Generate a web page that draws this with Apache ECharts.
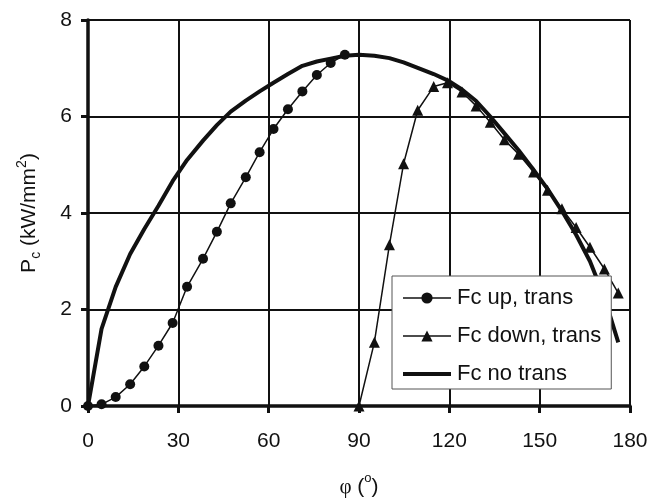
<!DOCTYPE html>
<html>
<head>
<meta charset="utf-8">
<script src="https://cdn.jsdelivr.net/npm/echarts@6/dist/echarts.min.js"></script>
<style>
  html, body { margin: 0; padding: 0; background: #fff; }
  #chart { width: 660px; height: 503px; }
</style>
</head>
<body>
<div id="chart"></div>
<script>
// Cutting power Pc (kW/mm²) versus rotation angle φ (degrees)
const seriesNames = ['Fc up, trans', 'Fc down, trans', 'Fc no trans'];

// Fc up, trans (circles)
const upAngle = [0, 4.5, 9.2, 14, 18.7, 23.4, 28.1, 32.9, 38.2, 42.8, 47.4, 52.4, 57, 61.6, 66.4, 71.2, 76, 80.6, 85.3];
const upPower = [0, 0.035, 0.185, 0.45, 0.82, 1.25, 1.72, 2.47, 3.05, 3.61, 4.2, 4.74, 5.26, 5.74, 6.15, 6.52, 6.86, 7.11, 7.28];

// Fc down, trans (triangles)
const downAngle = [90, 95.1, 100.1, 104.8, 109.5, 114.8, 119.4, 124.2, 128.9, 133.6, 138.3, 143, 148, 152.6, 157.4, 162.1, 166.7, 171.5, 176.1];
const downPower = [0, 1.32, 3.34, 5.02, 6.13, 6.62, 6.7, 6.51, 6.22, 5.88, 5.52, 5.22, 4.85, 4.47, 4.09, 3.7, 3.29, 2.84, 2.34];

// Fc no trans (thick line)
const noAngle = [0, 4.5, 9.2, 14, 18.7, 23.4, 28.1, 32.9, 38.2, 42.8, 47.4, 52.4, 57, 61.6, 66.4, 71.2, 76, 80.6, 85.3,
                 90, 95.1, 100.1, 104.8, 109.5, 114.8, 119.4, 124.2, 128.9, 133.6, 138.3, 143, 148, 152.6, 157.4, 162.1, 166.7, 171.5, 176.1];
const noPower = [0, 1.6, 2.47, 3.15, 3.67, 4.15, 4.66, 5.1, 5.5, 5.82, 6.1, 6.33, 6.52, 6.7, 6.88, 7.05, 7.14, 7.2, 7.26,
                 7.28, 7.26, 7.21, 7.12, 7.01, 6.88, 6.75, 6.56, 6.32, 6.0, 5.65, 5.3, 4.89, 4.5, 4.04, 3.55, 3.0, 2.25, 1.32];

// Axis ticks
const xMin = 0, xMax = 180, xStep = 30;
const yMin = 0, yMax = 8, yStep = 2;

const zip = (xs, ys) => xs.map((x, i) => [x, ys[i]]);

const ink = '#111';
const sans = '"Liberation Sans", Arial, sans-serif';

const chart = echarts.init(document.getElementById('chart'), null, { renderer: 'canvas' });

chart.setOption({
  backgroundColor: '#fff',
  animation: false,
  grid: { left: 88, right: 30, top: 20, bottom: 94 },
  xAxis: {
    type: 'value',
    min: xMin, max: xMax, interval: xStep,
    name: '{f|φ}{a| (}{p|o}{a|)}',
    nameLocation: 'middle',
    nameGap: 66,
    nameTextStyle: {
      color: ink, fontFamily: sans, fontSize: 21,
      rich: {
        f: { fontFamily: '"Liberation Serif", serif', fontSize: 21, color: ink, lineHeight: 26, verticalAlign: 'bottom' },
        a: { fontFamily: sans, fontSize: 21, color: ink, lineHeight: 26, verticalAlign: 'bottom' },
        p: { fontFamily: sans, fontSize: 13, color: ink, verticalAlign: 'top' }
      }
    },
    axisLine: { show: true, onZero: false, lineStyle: { color: ink, width: 3.5 } },
    axisTick: { show: true, inside: false, length: 7, lineStyle: { color: ink, width: 3 } },
    axisLabel: { color: ink, fontFamily: sans, fontSize: 21, margin: 25 },
    splitLine: { show: true, lineStyle: { color: ink, width: 2 } }
  },
  yAxis: {
    type: 'value',
    min: yMin, max: yMax, interval: yStep,
    name: '{a|P}{s|c}{a| (kW/mm}{p|2}{a|)}',
    nameLocation: 'middle',
    nameRotate: 90,
    nameGap: 45,
    nameTextStyle: {
      color: ink, fontFamily: sans, fontSize: 21,
      rich: {
        a: { fontFamily: sans, fontSize: 21, color: ink, lineHeight: 28 },
        s: { fontFamily: sans, fontSize: 14, color: ink, verticalAlign: 'bottom' },
        p: { fontFamily: sans, fontSize: 14, color: ink, verticalAlign: 'top' }
      }
    },
    axisLine: { show: true, onZero: false, lineStyle: { color: ink, width: 3.5 } },
    axisTick: { show: true, inside: false, length: 7, lineStyle: { color: ink, width: 3 } },
    axisLabel: { color: ink, fontFamily: sans, fontSize: 21, margin: 16 },
    splitLine: { show: true, lineStyle: { color: ink, width: 2 } }
  },
  legend: {
    orient: 'vertical',
    left: 392,
    top: 276,
    data: [
      { name: seriesNames[0], lineStyle: { width: 1.5 } },
      { name: seriesNames[1], lineStyle: { width: 1.5 } },
      // plain thick line, no marker in its key
      { name: seriesNames[2], lineStyle: { width: 4 }, itemStyle: { opacity: 0 } }
    ],
    backgroundColor: '#fff',
    borderColor: '#555',
    borderWidth: 1,
    padding: [10, 10, 3, 9],
    itemWidth: 48,
    itemHeight: 14,
    itemGap: 14,
    textStyle: { color: ink, fontFamily: sans, fontSize: 22, lineHeight: 24, padding: [0, 0, 0, 1] }
  },
  series: [
    {
      name: seriesNames[2],
      type: 'line',
      data: zip(noAngle, noPower),
      showSymbol: false,
      symbol: 'none',
      lineStyle: { color: ink, width: 4 },
      itemStyle: { color: ink },
      z: 2
    },
    {
      name: seriesNames[0],
      type: 'line',
      data: zip(upAngle, upPower),
      symbol: 'circle',
      symbolSize: 10,
      lineStyle: { color: ink, width: 1.5 },
      itemStyle: { color: ink },
      z: 3
    },
    {
      name: seriesNames[1],
      type: 'line',
      data: zip(downAngle, downPower),
      symbol: 'triangle',
      symbolSize: 11,
      lineStyle: { color: ink, width: 1.5 },
      itemStyle: { color: ink },
      z: 3
    }
  ]
});
</script>
</body>
</html>
